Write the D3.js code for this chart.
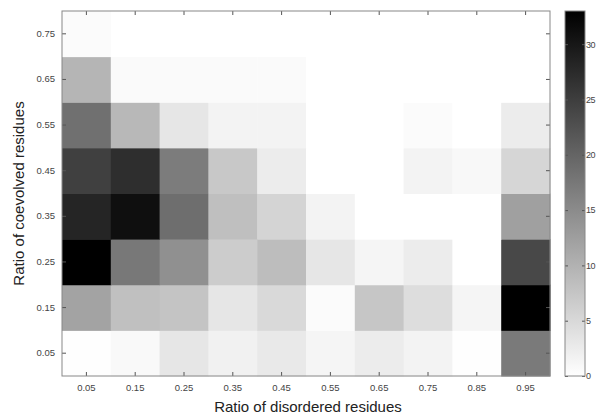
<!DOCTYPE html>
<html><head><meta charset="utf-8">
<script src="https://cdn.jsdelivr.net/npm/d3@7"></script>
<style>body{margin:0;background:#fff}svg{display:block}</style>
</head><body>
<svg id="c" width="597" height="416"></svg>
<script>
const xCats = ["0.05","0.15","0.25","0.35","0.45","0.55","0.65","0.75","0.85","0.95"];
const yCats = ["0.05","0.15","0.25","0.35","0.45","0.55","0.65","0.75"];
// rows: one array per y category (bottom 0.05 to top 0.75), values per x category
const row005 = [0.1, 0.8, 3.2, 1.8, 2.9, 1.3, 2.5, 1.6, 0.1, 17.2];
const row015 = [11.9, 8.2, 7.6, 3.2, 4.9, 0.5, 7.4, 4.4, 1.3, 33];
const row025 = [33, 17.5, 14.4, 6.6, 8.5, 3.2, 1.3, 2.5, 0, 23.7];
const row035 = [28.2, 31, 18.8, 8.3, 5.6, 1.6, 0, 0, 0, 12.3];
const row045 = [24.7, 27, 17, 7.1, 2.5, 0, 0, 1.6, 0.9, 5.3];
const row055 = [18.5, 9.2, 3.2, 1.6, 1.6, 0, 0, 0.5, 0, 2.5];
const row065 = [9.6, 0.6, 0.6, 0.6, 0.6, 0, 0, 0, 0, 0];
const row075 = [0.5, 0, 0, 0, 0, 0, 0, 0, 0, 0];
const rows = [row005, row015, row025, row035, row045, row055, row065, row075];
const cbTicks = [0, 5, 10, 15, 20, 25, 30];
const vMax = 33;

const svg = d3.select("#c");
const L = 62, R = 550, T = 11, B = 376;
const x = d3.scaleBand().domain(xCats).range([L, R]).padding(0);
const y = d3.scaleBand().domain(yCats).range([B, T]).padding(0);
const color = d3.scaleLinear().domain([0, vMax]).range(["#ffffff", "#000000"]).clamp(true);

const cells = [];
rows.forEach((r, i) => r.forEach((v, j) => cells.push({x: xCats[j], y: yCats[i], v})));
svg.append("g").selectAll("rect").data(cells).join("rect")
  .attr("x", d => x(d.x)).attr("y", d => y(d.y))
  .attr("width", x.bandwidth() + 0.5).attr("height", y.bandwidth() + 0.5)
  .attr("fill", d => color(d.v));

const tickColor = "#444";
const fontF = "'Liberation Sans', Arial, Helvetica, sans-serif";
function styleAxis(g) {
  g.select(".domain").remove();
  g.selectAll("line").attr("stroke", "#555");
  g.selectAll("text").attr("font-family", fontF).attr("font-size", 9.5).attr("fill", tickColor);
}
svg.append("g").attr("transform", `translate(0,${B})`)
  .call(d3.axisBottom(x).tickSize(-4).tickPadding(8)).call(styleAxis);
svg.append("g").attr("transform", `translate(0,${T})`)
  .call(d3.axisTop(x).tickSize(-4).tickFormat("")).call(styleAxis);
svg.append("g").attr("transform", `translate(${L},0)`)
  .call(d3.axisLeft(y).tickSize(-4).tickPadding(7)).call(styleAxis);
svg.append("g").attr("transform", `translate(${R},0)`)
  .call(d3.axisRight(y).tickSize(-4).tickFormat("")).call(styleAxis);

svg.append("rect").attr("x", L).attr("y", T).attr("width", R - L).attr("height", B - T)
  .attr("fill", "none").attr("stroke", "#888").attr("stroke-width", 1);

// colorbar
const cbL = 565, cbR = 585;
const cy = d3.scaleLinear().domain([0, vMax]).range([B, T]);
const defs = svg.append("defs");
const grad = defs.append("linearGradient").attr("id", "cg").attr("x1", 0).attr("y1", 1).attr("x2", 0).attr("y2", 0);
grad.selectAll("stop").data([0, vMax]).join("stop")
  .attr("offset", d => d / vMax).attr("stop-color", d => color(d));
svg.append("rect").attr("x", cbL).attr("y", T).attr("width", cbR - cbL).attr("height", B - T)
  .attr("fill", "url(#cg)");
svg.append("g").attr("transform", `translate(${cbR},0)`)
  .call(d3.axisRight(cy).tickValues(cbTicks).tickSize(-3).tickPadding(1))
  .call(g => { styleAxis(g); g.selectAll("text").attr("font-size", 9).attr("textLength", d => d >= 10 ? 9.5 : null); });
svg.append("g").attr("transform", `translate(${cbL},0)`)
  .call(d3.axisLeft(cy).tickValues(cbTicks).tickSize(-3).tickFormat("")).call(styleAxis);
svg.append("rect").attr("x", cbL).attr("y", T).attr("width", cbR - cbL).attr("height", B - T)
  .attr("fill", "none").attr("stroke", "#888").attr("stroke-width", 1);

// axis titles
svg.append("text").attr("x", (L + R) / 2 + 2).attr("y", 412).attr("text-anchor", "middle")
  .attr("font-family", fontF).attr("font-size", 15).attr("fill", "#222")
  .text("Ratio of disordered residues");
svg.append("text").attr("transform", `translate(24,${(T + B) / 2}) rotate(-90)`)
  .attr("text-anchor", "middle").attr("font-family", fontF).attr("font-size", 15).attr("fill", "#222")
  .text("Ratio of coevolved residues");
</script>
</body></html>
